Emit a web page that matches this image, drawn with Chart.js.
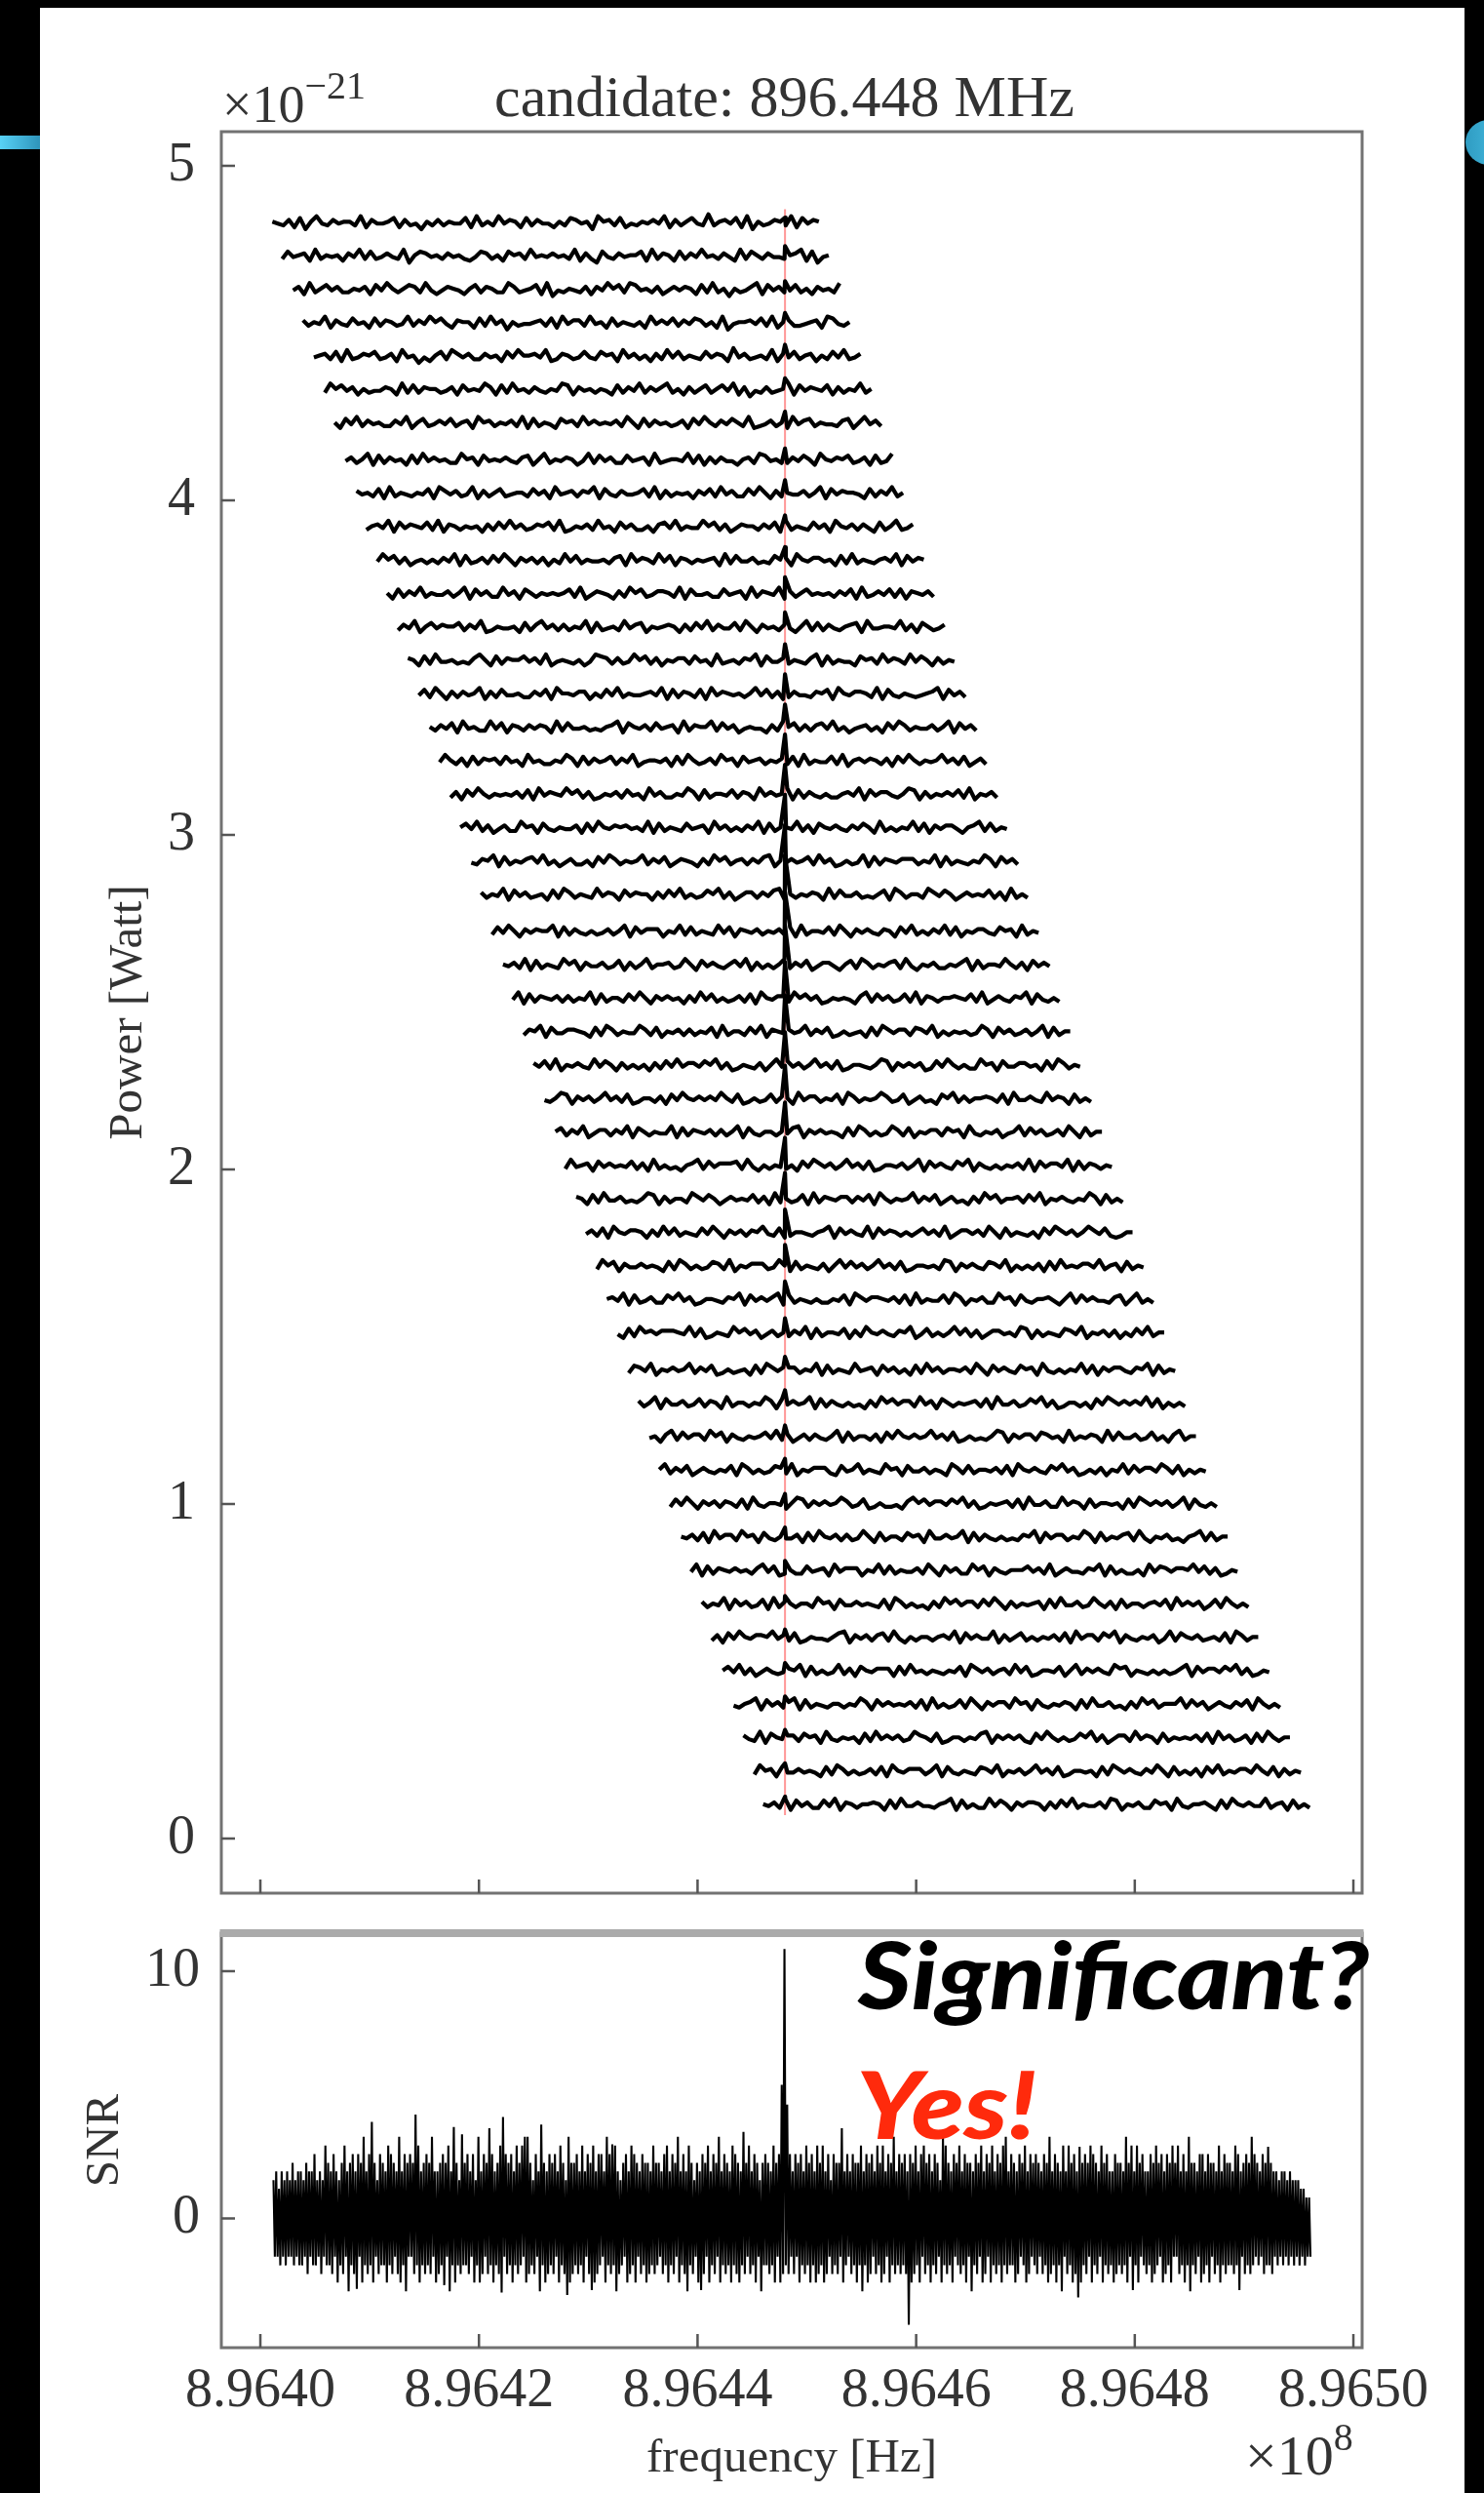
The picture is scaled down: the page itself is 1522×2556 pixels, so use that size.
<!DOCTYPE html>
<html>
<head>
<meta charset="utf-8">
<title>candidate: 896.448 MHz</title>
<script src="https://cdn.jsdelivr.net/npm/chart.js@4.4.1/dist/chart.umd.min.js"></script>
<style>
  html, body { margin: 0; padding: 0; background: #000; }
  body { width: 1522px; height: 2556px; position: relative; overflow: hidden; }
  .sheet { position: absolute; left: 41px; top: 8px; width: 1461px; height: 2548px; background: #fff; }
  .tab-left { position: absolute; left: 0; top: 139px; width: 41px; height: 14px; background: linear-gradient(90deg, #58d2f6, #2e94bb); }
  .dot-right { position: absolute; left: 1503px; top: 123px; width: 48px; height: 46px; border-radius: 50%; background: linear-gradient(90deg, #2f9cc2, #4cc3e8); }
  canvas { position: absolute; left: 0; }
  #stack { top: 0; }
  #snr { top: 1960px; }
</style>
</head>
<body>
<div class="sheet"></div>
<div class="tab-left"></div>
<div class="dot-right"></div>
<canvas id="stack" width="1522" height="1960"></canvas>
<canvas id="snr" width="1522" height="596"></canvas>
<script>
// ---- data ----
const CANDIDATE_MHZ = 896.448;
const BASE_MHZ = 896.400;          // trace starts are given in kHz above this

const freqTicks = [896.40, 896.42, 896.44, 896.46, 896.48, 896.50];
const freqTickLabels = ['8.9640', '8.9642', '8.9644', '8.9646', '8.9648', '8.9650'];
const powerTicks = [0, 1, 2, 3, 4, 5];
const snrTicks = [0, 10];

// stacked spectra, top to bottom (power in units of 1e-21 W)
const traceLevel = [4.83, 4.73, 4.63, 4.53, 4.43, 4.33, 4.23, 4.12, 4.02, 3.92, 3.82, 3.72,
  3.62, 3.52, 3.42, 3.32, 3.22, 3.12, 3.02, 2.92, 2.82, 2.71, 2.61, 2.51, 2.41, 2.31, 2.21, 2.11,
  2.01, 1.91, 1.81, 1.71, 1.61, 1.51, 1.40, 1.30, 1.20, 1.10, 1.00, 0.90, 0.80, 0.70, 0.60, 0.50,
  0.40, 0.30, 0.20, 0.10];
const traceStartKHz = [1.1, 2.0, 3.0, 3.9, 4.9, 5.9, 6.8, 7.8, 8.8, 9.7, 10.7, 11.6, 12.6, 13.5,
  14.5, 15.5, 16.4, 17.4, 18.3, 19.3, 20.2, 21.2, 22.2, 23.1, 24.1, 25.0, 26.0, 27.0, 27.9, 28.9,
  29.8, 30.8, 31.7, 32.7, 33.7, 34.6, 35.6, 36.5, 37.5, 38.5, 39.4, 40.4, 41.3, 42.3, 43.3, 44.2,
  45.2, 46.0];
// excess power at the candidate bin in each spectrum
const tracePeak = [0.015, 0.03, 0.025, 0.03, 0.035, 0.035, 0.035, 0.035, 0.04, 0.035, 0.04, 0.05,
  0.045, 0.05, 0.06, 0.07, 0.08, 0.09, 0.1, 0.11, 0.12, 0.12, 0.12, 0.11, 0.11, 0.1, 0.1, 0.09,
  0.085, 0.08, 0.07, 0.065, 0.055, 0.045, 0.04, 0.04, 0.035, 0.035, 0.03, 0.03, 0.03, 0.025,
  0.025, 0.025, 0.025, 0.025, 0.025, 0.025];
const TRACE_STEP_KHZ = 0.505;
const TRACE_DIGIT = 0.0055;        // power per noise digit, 1e-21 W (digit 4.5 = level)
const traceNoise = [
  '5436271584 3645538264 4572634153 6354472835 3846527364 4253764518 5637243546 4826357439 3564728153 4653827465',
  '3745628354 5264837346 4381576453 6453247635 2756384546 4538263174 3645572836 5273648453 6428375364 4356827145',
  '4628357463 3546274853 5763842465 4257365338 6345728143 5436264857 3874536246 4652738351 5346827463 4735264538',
  '6354826437 4527365348 3648574265 5273846153 4456372846 6384527354 3528464736 4763528145 5647382563 3456287435',
  '4563728346 5734628451 4257386463 3645274855 6482365347 4375628463 5263847354 3746529463 4538264735 6253748346',
  '3857462534 4652837365 5346274548 6273845364 3548726453 5427364836 4683526357 3574826143 6345827465 4726354835',
  '5274836453 3648257346 4735628563 5463827354 2756384645 4638527364 5346274853 6475382346 3528467354 4367258463',
  '4635827364 5273846453 3856274546 4367258354 6524837463 3745628345 5483726364 4256387453 3647528546 5734627348',
  '6453728354 3547286463 4826357345 5374628456 3658274364 4573826354 5264738463 3748526354 4635827465 5427364835',
  '3564827465 4738265354 5263748463 4657382354 6384527463 3526748354 4857362465 5364728354 3746285463 6427358346',
  '4857362453 5364827346 3748526463 6253847354 4536728465 3847265354 5628374463 4375628546 6452738354 3564827465',
  '5273648354 4635827463 3846275354 5457382465 4263857346 6538274453 3745628365 4826357454 5364728346 4737265463',
  '3648257465 5736482354 4527368463 6354827345 3846725456 5263748364 4738526453 6425837364 3567284455 4836275346',
  '6527384453 4368527365 5746382454 3524876363 4857362546 6374528345 3658274463 5436827354 4275638465 3847526354',
  '4738526364 5826374453 3647285546 6253748354 4564827365 3728465453 5847362364 4365728546 6538274354 3456827463',
  '5364728453 3847265364 6528374453 4356827546 3745628365 5837462454 4263857363 6748352456 3527486354 4635827463',
  '4853627365 6374528453 3548627364 5736482455 4627385346 3856274563 5463728354 4738256465 3627485354 5846372463',
  '3627485354 5463728465 4857362354 6374528463 3548627355 4736528464 5827364353 3564827466 4358726354 6473825463',
  '5748362463 3856274354 4627385465 6453827354 3745628463 5364827355 4836275464 3647528353 5483726466 4256837354',
  '4365827354 6748352463 3527486354 5836472465 4263857356 3647825464 5738462353 4827365466 6354827354 3548627463',
  '6354827463 4527386354 3846527465 5263748353 4758362466 3647825354 6528374463 4357286355 3864752464 5473628353',
  '3748526465 5827364353 4635827466 6254837354 3847265463 5463728355 4738526464 3652748353 6483725466 4375628354',
  '5463827354 3857264463 4726358355 6348527464 3574826353 5836472466 4257386354 6738425463 3546827355 4853627464',
  '4827365463 6354827355 3748526464 5263847353 4637285466 3857462354 5426837463 4738265355 6547382464 3658274353',
  '3658274466 5427386354 4863725463 6354728355 3748265464 5836472353 4527386466 3764825354 5348627463 4635827355',
  '6473825464 3847526353 5263748466 4758362354 3625847463 5846372355 4358726464 6237485353 3856274466 4527386354',
  '4358726463 5846372355 3627485464 6485372353 4736528466 3547286354 5863472463 4275836355 6537284464 3846527353',
  '5736482466 3648275354 4827365463 6358274355 3547826464 5427386353 4863725466 3756284354 6245837463 4638527355',
  '3845627464 5473628353 4256837466 6738425354 3527486463 5846372355 4635827464 3758264353 5463827466 4827365354',
  '6527384463 4358726355 3864752464 5473628353 4728365466 3647285354 5836472463 4263857355 6374825464 3548627353',
  '4637285466 5263847354 3748526463 6584372355 4356827464 3827465353 5746382466 4638527354 3527486463 5864732355',
  '3857264464 5427386353 4763825466 6348527354 3625847463 5846372355 4538726464 3764825353 6273845466 4835627354',
  '5648273463 3758462355 4365827464 6827354353 3547286466 5463728354 4738625463 3856274355 6425837464 4367258353',
  '4273856466 6548372354 3857462463 5364827355 4726385464 3658247353 5847362466 4538726354 3764825463 6253748355',
  '3764825464 5836472353 4527386466 6354827354 3845627463 5273846355 4638527464 3756284353 5483726466 4365827354',
  '6358274463 4736528355 3548627464 5827364353 4263857466 3846275354 5637284463 4758362355 3527486464 6483725353',
  '4526837466 3857264354 5748362463 6435827355 3627485464 5846372353 4358726466 3764528354 6528374463 4735268355',
  '5836472464 3547286353 4763825466 6327458354 3856274463 5428637355 4637285464 3758462353 6254837466 4863725354',
  '3748526463 6537284355 4258736464 5863472353 3426857466 4758362354 5637284463 3846527355 4527386464 6358274353',
  '5463728466 3856274354 4627385463 6348527355 3756284464 5827364353 4365827466 3548627354 6738425463 4256837355',
  '4827365464 5368472353 3745628466 6254837354 4638527463 3857264355 5746382464 4365827353 3528476466 5847362354',
  '6354827463 4728365355 3856274464 5437286353 4263857466 3748526354 5627384463 4853627355 3564728464 6247385353',
  '3627485466 5846372354 4357826463 6738425355 3564827464 4826357353 5463728466 3758264354 6248375463 4537286355',
  '5748362464 3465827353 4836275466 6273845354 3547286463 5638472355 4725836464 3867254353 5346827466 4758362354',
  '4356827463 6827354355 3548627464 5463728353 4738526466 3856274354 6527384463 4263857355 5837462464 3647285353',
  '6438275466 3756284354 5273846463 4865372355 3547826464 6327485353 4758362466 3846527354 5463728463 4627385355',
  '3856274464 5427386353 4637285466 6358274354 3764825463 5846372355 4527386464 3648527353 6274835466 4853726354',
  '5463827463 3748265355 6527384464 4356827353 3847526466 5263748354 4638725463 3756284355 6427385464 4835627353'
];
const redLineSpan = [0.07, 4.87];

// combined SNR over the whole band: per 0.25 kHz bin, the highest and the lowest excursion
// digit d means |SNR| = 0.5 + 0.35 * d
const SNR_START_MHZ = 896.4012;
const SNR_BIN_KHZ = 0.25;
const snrUpper = [
  '3424343534 4354463437 5464357456 4658465536 5476548465 6537456584 4565748537 5646384659',
  '6457465647 5748536475 4656475385 5647465746 6486574356 4765465547 5546746584 6475354657',
  '4658465476 5465746535 6547565486 4656475647 5746365594 6465574656 4757465846 5646574675',
  '6465387546 5746554657 4657465784 6546574656 5465846547 4756465657 6547564465 5485747564',
  '4657564657 5746485546 6465547465 5476456586 5465454434 4343332211'
];
const snrLower = [
  '3343433434 4353443534 4536453745 5364546354 4645356473 3546454536 5463746454 4536465354',
  '6454354645 4365453746 5453645365 4546354654 3645475436 5463546545 4354645364 5745364536',
  '4536454645 6453546374 4546365453 5364546465 4653545364 3546474653 5465364545 4536546354',
  '6453645463 4546374536 5364546454 4653465345 3546546473 5465364536 4536454654 5463546345',
  '4654365463 3546474536 5463546454 4546354543 4354453434 3434343433'
];
// isolated bins read individually: [frequency MHz, SNR]
const snrSpikes = [
  [896.4103, 3.9], [896.4142, 4.2], [896.4178, 3.7], [896.4185, 3.4], [896.4222, 4.1],
  [896.4242, 3.3], [896.4257, 3.8], [896.4323, 3.0], [896.4442, 3.5],
  [896.44775, 5.4], [896.448, 10.9], [896.44825, 4.6],
  [896.4749, 2.9], [896.4922, 2.9],
  [896.4086, -2.85], [896.4168, -2.7], [896.4219, -3.0], [896.4279, -3.1], [896.4302, -2.9],
  [896.4401, -2.9], [896.4591, -4.3], [896.4747, -3.2], [896.4798, -2.9], [896.4894, -2.9]
];

// ---- series ----
const chars = s => s.replace(/\s+/g, '').split('');

function traceSeries(i) {
  const start = BASE_MHZ + traceStartKHz[i] / 1000;
  const pts = chars(traceNoise[i]).map((c, j) => ({
    x: start + j * TRACE_STEP_KHZ / 1000,
    y: traceLevel[i] + (Number(c) - 4.5) * TRACE_DIGIT
  }));
  const k = pts.findIndex(p => p.x > CANDIDATE_MHZ);
  if (k > 0) pts.splice(k, 0, { x: CANDIDATE_MHZ, y: traceLevel[i] + (tracePeak[i] || 0) });
  return pts;
}

// each bin is drawn as its high excursion then its low one, half a bin apart
function snrSeries() {
  const hi = chars(snrUpper.join('')).map(c => 0.5 + 0.35 * Number(c));
  const lo = chars(snrLower.join('')).map(c => -(0.5 + 0.35 * Number(c)));
  const bin = SNR_BIN_KHZ / 1000;
  snrSpikes.forEach(([f, v]) => {
    const j = Math.round((f - SNR_START_MHZ) / bin);
    if (v > 0 && j < hi.length) hi[j] = v;
    if (v < 0 && j < lo.length) lo[j] = v;
  });
  const pts = [];
  hi.forEach((h, j) => {
    const f = SNR_START_MHZ + j * bin;
    pts.push({ x: f, y: h });
    if (j < lo.length) pts.push({ x: f + bin / 2, y: lo[j] });
  });
  return pts;
}

// ---- look ----
const SERIF = "'Liberation Serif', 'Times New Roman', serif";
const INK = '#333';
const X_MIN = 896.39643, X_MAX = 896.5008;

const fixedTicks = values => scale => { scale.ticks = values.map(v => ({ value: v })); };

// pin an axis to a fixed thickness and drop the label overhang padding
const fixedSize = (prop, size) => scale => {
  scale[prop] = size;
  scale.paddingTop = scale.paddingBottom = scale.paddingLeft = scale.paddingRight = 0;
};

// box around the plot area plus inward tick marks
const framePlugin = {
  id: 'frame',
  afterDatasetsDraw(chart, args, opts) {
    const { ctx, chartArea: a } = chart;
    const { x, y } = chart.scales;
    ctx.save();
    ctx.strokeStyle = '#727272';
    ctx.lineWidth = 3;
    ctx.strokeRect(a.left, a.top, a.right - a.left, a.bottom - a.top);
    if (opts.heavyTop) {
      ctx.strokeStyle = '#ababab';
      ctx.lineWidth = 8;
      ctx.beginPath();
      ctx.moveTo(a.left - 1.5, a.top);
      ctx.lineTo(a.right + 1.5, a.top);
      ctx.stroke();
    }
    ctx.strokeStyle = '#555';
    ctx.lineWidth = 2.5;
    ctx.beginPath();
    x.ticks.forEach(t => {
      const px = x.getPixelForValue(t.value);
      ctx.moveTo(px, a.bottom);
      ctx.lineTo(px, a.bottom - 14);
    });
    y.ticks.forEach(t => {
      const py = y.getPixelForValue(t.value);
      ctx.moveTo(a.left, py);
      ctx.lineTo(a.left + 14, py);
    });
    ctx.stroke();
    ctx.restore();
  }
};

// free text (title, exponents, remarks); each item is a run of parts on one baseline,
// `stretch` widens a part horizontally
const notesPlugin = {
  id: 'notes',
  afterDraw(chart, args, opts) {
    const ctx = chart.ctx;
    (opts.items || []).forEach(item => {
      let cx = item.x;
      item.parts.forEach(p => {
        const sx = p.stretch || 1;
        ctx.save();
        ctx.textBaseline = 'alphabetic';
        ctx.font = p.font;
        ctx.fillStyle = p.color || item.color || INK;
        ctx.translate(cx, item.y - (p.rise || 0));
        ctx.scale(sx, 1);
        ctx.fillText(p.text, 0, 0);
        cx += ctx.measureText(p.text).width * sx + (p.gap || 0);
        ctx.restore();
      });
    });
  }
};

const baseScale = {
  grid: { display: false, drawTicks: false },
  border: { display: false }
};

// ---- stacked spectra ----
const traceSets = traceLevel.map((lvl, i) => ({
  data: traceSeries(i),
  borderColor: '#000',
  borderWidth: 4.2,
  borderJoinStyle: 'round',
  pointRadius: 0
}));
const redSet = {
  data: [{ x: CANDIDATE_MHZ, y: redLineSpan[0] }, { x: CANDIDATE_MHZ, y: redLineSpan[1] }],
  borderColor: 'rgba(255, 95, 95, 0.65)',
  borderWidth: 2,
  pointRadius: 0
};

new Chart(document.getElementById('stack'), {
  type: 'line',
  data: { datasets: [...traceSets, redSet] },
  options: {
    responsive: false,
    animation: false,
    events: [],
    layout: { padding: { left: 0, top: 135, right: 125, bottom: 0 } },
    plugins: {
      legend: { display: false },
      tooltip: { enabled: false },
      frame: {},
      notes: {
        items: [
          { x: 228, y: 125, parts: [
            { text: '×10', font: `54px ${SERIF}` },
            { text: '−21', font: `40px ${SERIF}`, rise: 24 }
          ] },
          { x: 507, y: 119, parts: [{ text: 'candidate: 896.448 MHz', font: `60px ${SERIF}` }] }
        ]
      }
    },
    scales: {
      x: {
        ...baseScale,
        type: 'linear', min: X_MIN, max: X_MAX,
        ticks: { display: false },
        afterBuildTicks: fixedTicks(freqTicks),
        afterFit: fixedSize('height', 19)
      },
      y: {
        ...baseScale,
        min: -0.163, max: 5.102,
        ticks: { font: { family: SERIF, size: 56 }, color: INK, padding: 27 },
        afterBuildTicks: fixedTicks(powerTicks),
        afterFit: fixedSize('width', 227),
        title: {
          display: true, text: 'Power [Watt]', color: INK,
          font: { family: SERIF, size: 49 }, padding: { top: 103, bottom: 0 }
        }
      }
    }
  },
  plugins: [framePlugin, notesPlugin]
});

// ---- combined SNR ----
new Chart(document.getElementById('snr'), {
  type: 'line',
  data: {
    datasets: [{
      data: snrSeries(),
      borderColor: '#000',
      borderWidth: 2.1,
      borderJoinStyle: 'bevel',
      pointRadius: 0
    }]
  },
  options: {
    responsive: false,
    animation: false,
    events: [],
    layout: { padding: { left: 0, top: 22, right: 125, bottom: 0 } },
    plugins: {
      legend: { display: false },
      tooltip: { enabled: false },
      frame: { heavyTop: true },
      notes: {
        items: [
          { x: 880, y: 100, color: '#000', parts: [{ text: 'Significant?', font: 'italic 900 96px Lato, sans-serif', stretch: 1.1 }] },
          { x: 878, y: 233, color: '#ff2a0c', parts: [{ text: 'Yes!', font: 'italic 900 96px Lato, sans-serif', stretch: 1.15 }] },
          { x: 1277, y: 577, parts: [
            { text: '×10', font: `58px ${SERIF}` },
            { text: '8', font: `40px ${SERIF}`, rise: 25 }
          ] }
        ]
      }
    },
    scales: {
      x: {
        ...baseScale,
        type: 'linear', min: X_MIN, max: X_MAX,
        ticks: {
          font: { family: SERIF, size: 56 }, color: INK, padding: 12,
          autoSkip: false, maxRotation: 0,
          callback: (v, i) => freqTickLabels[i]
        },
        afterBuildTicks: fixedTicks(freqTicks),
        afterFit: fixedSize('height', 149),
        title: {
          display: true, text: 'frequency [Hz]', color: INK,
          font: { family: SERIF, size: 49 }, padding: { top: 0, bottom: 5 }
        }
      },
      y: {
        ...baseScale,
        min: -5.23, max: 11.54,
        ticks: { font: { family: SERIF, size: 56 }, color: INK, padding: 22 },
        afterBuildTicks: fixedTicks(snrTicks),
        afterFit: fixedSize('width', 227),
        title: {
          display: true, text: 'SNR', color: INK,
          font: { family: SERIF, size: 49 }, padding: { top: 79, bottom: 0 }
        }
      }
    }
  },
  plugins: [framePlugin, notesPlugin]
});
</script>
</body>
</html>
